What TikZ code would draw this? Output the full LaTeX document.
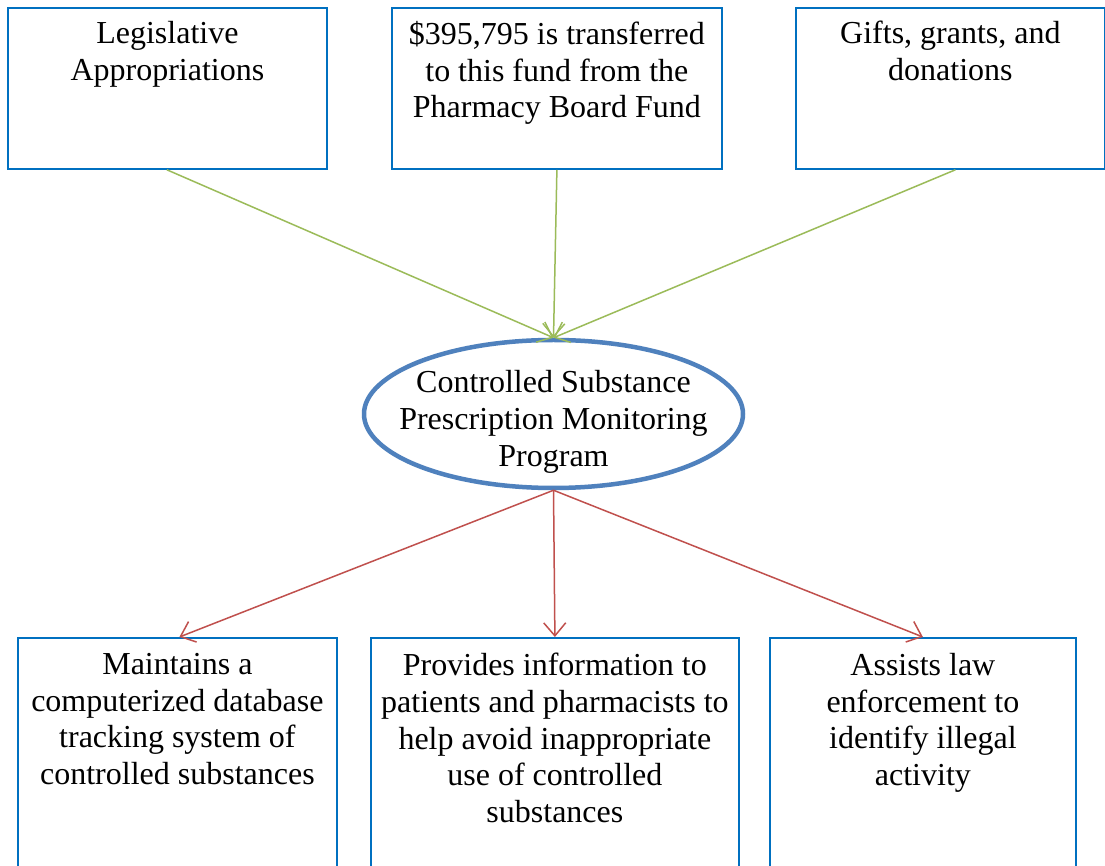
\documentclass[tikz,border=0pt]{standalone}
\usepackage{fontspec}
\setmainfont{Liberation Serif}
\usetikzlibrary{shapes.geometric,arrows.meta}
\definecolor{boxblue}{HTML}{0070C0}
\definecolor{ellblue}{HTML}{4F81BD}
\definecolor{ingreen}{HTML}{9BBB59}
\definecolor{outred}{HTML}{C0504D}
\begin{document}
\begin{tikzpicture}[x=1pt,y=1pt,
  fundbox/.style={draw=boxblue,line width=1.8pt,rectangle,anchor=north west,inner sep=0pt},
  boxtext/.style={anchor=north,align=center,inner sep=0pt,font=\fontsize{32}{36.7}\selectfont},
  prog/.style={draw=ellblue,line width=4.5pt,ellipse,inner sep=0pt,minimum width=379pt,minimum height=148pt},
  progtext/.style={align=center,inner sep=0pt,font=\fontsize{32}{36.7}\selectfont},
  inarrow/.style={draw=ingreen,line width=1.5pt,-{Straight Barb[length=13pt,width=22pt,line width=1.5pt]}},
  outarrow/.style={draw=outred,line width=1.5pt,-{Straight Barb[length=13pt,width=22pt,line width=1.5pt]}}]
\useasboundingbox (0,0) rectangle (1105,865);
\fill[white] (0,0) rectangle (1105,865);
% top boxes
\node[fundbox,minimum width=319pt,minimum height=161pt] (b1) at (7,858) {};
\node[fundbox,minimum width=330pt,minimum height=161pt] (b2) at (391,858) {};
\node[fundbox,minimum width=309pt,minimum height=161pt] (b3) at (795,858) {};
\node[boxtext] (t1) at ([yshift=-14pt]b1.north) {Legislative\\Appropriations};
\node[boxtext] (t2) at ([yshift=-14pt]b2.north) {\$395,795 is transferred\\to this fund from the\\Pharmacy Board Fund};
\node[boxtext] (t3) at ([yshift=-14pt]b3.north) {Gifts, grants, and\\donations};
% ellipse
\node[prog] (ell) at (553.5,451) {};
\node[progtext] (ellt) at ([yshift=-8pt]ell.center) {Controlled Substance\\Prescription Monitoring\\Program};
% bottom boxes
\node[fundbox,minimum width=319pt,minimum height=260pt] (b4) at (17,228) {};
\node[fundbox,minimum width=368pt,minimum height=260pt] (b5) at (370,228) {};
\node[fundbox,minimum width=306pt,minimum height=260pt] (b6) at (769,228) {};
\node[boxtext] (t4) at ([yshift=-16pt]b4.north) {Maintains a\\computerized database\\tracking system of\\controlled substances};
\node[boxtext] (t5) at ([yshift=-16pt]b5.north) {Provides information to\\patients and pharmacists to\\help avoid inappropriate\\use of controlled\\substances};
\node[boxtext] (t6) at ([yshift=-16pt]b6.north) {Assists law\\enforcement to\\identify illegal\\activity};
% connectors
\coordinate (in1) at ([xshift=-0.5pt]b1.south);
\coordinate (in3) at ([xshift=5pt]b3.south);
\coordinate (out4) at ([xshift=2pt]b4.north);
\coordinate (out6) at ([xshift=0pt]b6.north);
\draw[inarrow] (in1) -- (ell.north);
\draw[inarrow] (b2.south) -- (ell.north);
\draw[inarrow] (in3) -- (ell.north);
\draw[outarrow] (ell.south) -- (out4);
\draw[outarrow] (ell.south) -- (b5.north);
\draw[outarrow] (ell.south) -- (out6);
\end{tikzpicture}
\end{document}
